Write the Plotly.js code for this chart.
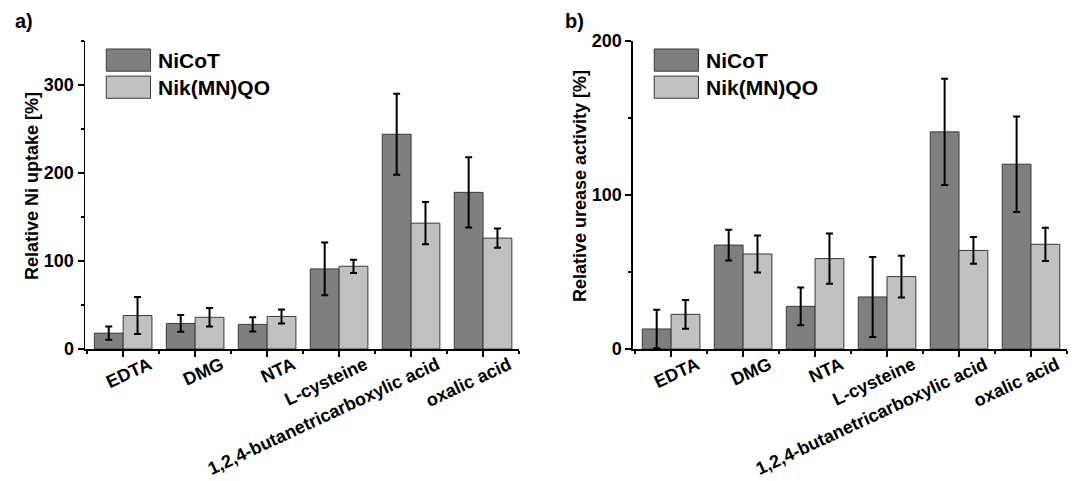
<!DOCTYPE html>
<html><head><meta charset="utf-8">
<script src="https://cdn.plot.ly/plotly-3.0.1.min.js"></script>
<style>html,body{margin:0;padding:0;background:#fff}#chart{width:1072px;height:481px}</style>
</head><body><div id="chart"></div>
<script>
const categories = ["EDTA", "DMG", "NTA", "L-cysteine", "1,2,4-butanetricarboxylic acid", "oxalic acid"];
const seriesNames = ["NiCoT", "Nik(MN)QO"];
const yTitles = ["Relative Ni uptake [%]", "Relative urease activity [%]"];
// panel a: Relative Ni uptake [%]
const uptakeNiCoT = [18, 29, 28, 91, 244, 178];
const uptakeNiCoTErr = [7.5, 9.5, 8, 30, 46, 40];
const uptakeNik = [38, 36, 37, 94, 143, 126];
const uptakeNikErr = [21, 10.5, 8, 7.5, 24, 11];
// panel b: Relative urease activity [%]
const ureaseNiCoT = [13, 67.5, 27.7, 33.8, 141, 120];
const ureaseNiCoTErr = [12.5, 10, 12.2, 26, 34.5, 31];
const ureaseNik = [22.5, 61.7, 58.7, 47, 64, 68];
const ureaseNikErr = [9.3, 12, 16.3, 13.6, 8.7, 10.8];
const yTicksA = [0, 100, 200, 300];
const yTicksB = [0, 100, 200];

const colors = ["#7f7f7f", "#c1c1c1"];
const font = "Liberation Sans, Arial, sans-serif";
const idx = categories.map((c, i) => i);

function bar(y, err, s, xa, ya) {
  return {
    type: "bar", x: idx, y: y, name: seriesNames[s], xaxis: xa, yaxis: ya, showlegend: false,
    marker: {color: colors[s], line: {color: "#3a3a3a", width: 1}},
    error_y: {type: "data", array: err, visible: true, color: "#000", thickness: 2, width: 3.5}
  };
}
const data = [
  bar(uptakeNiCoT, uptakeNiCoTErr, 0, "x", "y"),
  bar(uptakeNik, uptakeNikErr, 1, "x", "y"),
  bar(ureaseNiCoT, ureaseNiCoTErr, 0, "x2", "y2"),
  bar(ureaseNik, ureaseNikErr, 1, "x2", "y2")
];

function xaxis(domain, anchor) {
  return {
    domain: domain, anchor: anchor, range: [-0.53, 5.5], showgrid: false, zeroline: false,
    showline: true, linecolor: "#000", linewidth: 1.5,
    tickmode: "array", tickvals: idx, ticktext: categories, tickangle: -25,
    ticks: "outside", ticklen: 6, tickwidth: 1.5, tickcolor: "#000",
    ticklabelshift: 26, ticklabelstandoff: -9,
    minor: {tick0: 0.5, dtick: 1, ticks: "outside", ticklen: 3, tickwidth: 1.5, tickcolor: "#000"},
    tickfont: {family: font, size: 18, color: "#000", weight: "bold"}
  };
}
function yaxis(range, ticks, anchor) {
  return {
    domain: [0, 1], anchor: anchor, range: range, showgrid: false, zeroline: false,
    showline: true, linecolor: "#000", linewidth: 1.5,
    tickmode: "array", tickvals: ticks, ticks: "outside", ticklen: 6, tickwidth: 1.5, tickcolor: "#000",
    minor: {tick0: 50, dtick: 100, ticks: "outside", ticklen: 3, tickwidth: 1.5, tickcolor: "#000"},
    tickfont: {family: font, size: 18, color: "#000", weight: "bold"}
  };
}

const shapes = [];
const tf = {family: font, size: 18, color: "#000", weight: "bold"};
const annotations = [
  {xref: "paper", yref: "paper", x: -0.0733, y: 1.023, text: "a)", showarrow: false, xanchor: "left", yanchor: "bottom",
   font: {family: font, size: 20, color: "#000", weight: "bold"}},
  {xref: "paper", yref: "paper", x: 0.4868, y: 1.023, text: "b)", showarrow: false, xanchor: "left", yanchor: "bottom",
   font: {family: font, size: 20, color: "#000", weight: "bold"}},
  {xref: "paper", yref: "paper", x: -0.054, y: 0.529, text: yTitles[0], textangle: -90, showarrow: false,
   xanchor: "center", yanchor: "middle", font: tf},
  {xref: "paper", yref: "paper", x: 0.504, y: 0.529, text: yTitles[1], textangle: -90, showarrow: false,
   xanchor: "center", yanchor: "middle", font: tf}
];
// legends drawn as shapes + text inside each panel
[["x domain", "y domain"], ["x2 domain", "y2 domain"]].forEach(([xr, yr]) => {
  seriesNames.forEach((n, s) => {
    const y1 = 0.974 - s * 0.088, y0 = y1 - 0.072;
    shapes.push({type: "rect", xref: xr, yref: yr, x0: 0.049, x1: 0.151, y0: y0, y1: y1,
      fillcolor: colors[s], line: {color: "#3a3a3a", width: 1}});
    annotations.push({xref: xr, yref: yr, x: 0.163, y: (y0 + y1) / 2, text: n, showarrow: false,
      xanchor: "left", yanchor: "middle", font: {family: font, size: 21, color: "#000", weight: "bold"}});
  });
});

const layout = {
  width: 1072, height: 481, paper_bgcolor: "#fff", plot_bgcolor: "#fff",
  margin: {l: 85, r: 5, t: 41, b: 132},
  barmode: "group", bargap: 0.2, bargroupgap: 0,
  xaxis: xaxis([0, 0.442], "y"),
  yaxis: yaxis([0, 350], yTicksA, "x"),
  xaxis2: xaxis([0.558, 1], "y2"),
  yaxis2: yaxis([0, 200], yTicksB, "x2"),
  shapes: shapes, annotations: annotations
};
Plotly.newPlot("chart", data, layout, {staticPlot: true});
</script></body></html>
